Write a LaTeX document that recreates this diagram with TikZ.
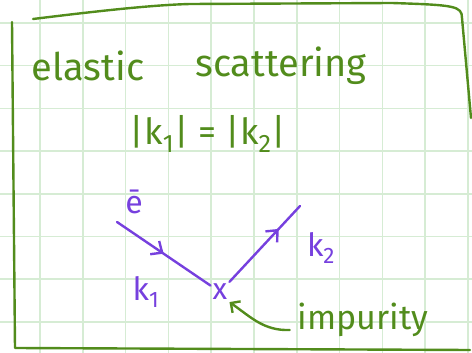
\documentclass[tikz,border=0pt]{standalone}
\usepackage{fontspec}
\setmainfont{Fira Sans}
\usetikzlibrary{arrows.meta,decorations.markings}

\definecolor{pengreen}{RGB}{82,140,28}
\definecolor{penpurple}{RGB}{118,64,222}
\definecolor{paper}{RGB}{214,236,212}

\begin{document}
\begin{tikzpicture}[x=1pt,y=-1pt,
        gridline/.style={paper,line width=1.6pt},
        frame/.style={pengreen,line width=2.4pt,line cap=round,line join=round},
        ray/.style={penpurple,line width=2.4pt,line cap=round},
        note/.style={pengreen,inner sep=0pt,font=\fontsize{38}{42}\selectfont},
        lab/.style={penpurple,inner sep=0pt,font=\fontsize{32}{36}\selectfont},
        midarrow/.style={postaction={decorate},decoration={markings,
            mark=at position #1 with {\arrow[penpurple]{Straight Barb[length=9pt,width=16pt,line width=2.4pt]}}}}]
    \useasboundingbox (0,0) rectangle (472,353);

    % Grid
    \foreach \k in {0,...,11}
        \draw[gridline] ({-2.8+42.8*\k},0) -- ++(0,353);
    \foreach \k in {0,...,7}
        \draw[gridline] (0,{23+42.7*\k}) -- ++(472,0);

    % Frame
    \draw[frame] (33,19) .. controls (90,12) and (150,5) .. (190,4) -- (392,3)
        .. controls (455,5) and (462,6) .. (462,18) -- (471,118);
    \draw[frame] (12,22) -- (15,348) -- (470,350);

    % Text
    \node[note] (elastic) at (88,66) {elastic};
    \node[note] (scatt) at (281,66) {scattering};
    \node[note,font=\fontsize{36}{40}\selectfont] (kk) at (208,134)
        {|k\textsubscript{1}| = |k\textsubscript{2}|};

    % Scattering
    \node[lab] (elec) at (134,202) {ē};
    \node[penpurple,inner sep=2pt,font=\fontsize{30}{34}\selectfont] (imp) at (220,292) {x};
    \coordinate (kin) at (117,222);
    \coordinate (kout) at (300,206);
    \node[lab] (k1) at (146,292) {k\textsubscript{1}};
    \node[lab] (k2) at (321,248) {k\textsubscript{2}};
    \draw[ray,midarrow=0.5] (kin) -- (imp);
    \draw[ray,midarrow=0.7] (imp) -- (kout);

    % Impurity
    \node[note,font=\fontsize{34}{38}\selectfont] (impl) at (363,320) {impurity};
    \draw[frame,-{Straight Barb[length=7pt,width=14pt]}] (impl.west) ++(-8,10)
        to[out=182,in=-35] (imp.south east);
\end{tikzpicture}
\end{document}
